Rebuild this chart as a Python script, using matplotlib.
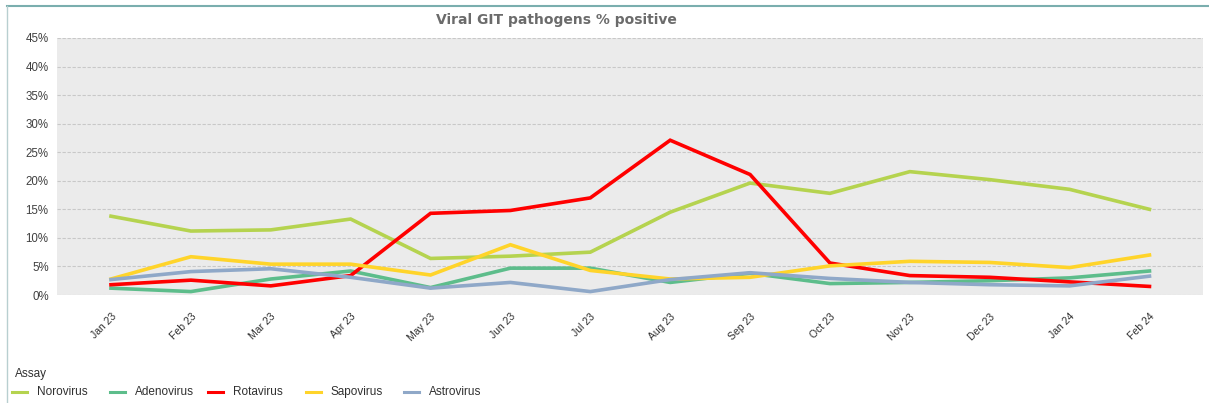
import matplotlib.pyplot as plt
from matplotlib.lines import Line2D
from matplotlib.transforms import ScaledTranslation
import numpy as np

months = ['Jan 23', 'Feb 23', 'Mar 23', 'Apr 23', 'May 23', 'Jun 23', 'Jul 23',
          'Aug 23', 'Sep 23', 'Oct 23', 'Nov 23', 'Dec 23', 'Jan 24', 'Feb 24']

norovirus = [13.8, 11.2, 11.4, 13.3, 6.4, 6.8, 7.5, 14.5, 19.6, 17.8, 21.6, 20.2, 18.5, 15.0]
adenovirus = [1.2, 0.6, 2.8, 4.2, 1.3, 4.7, 4.7, 2.2, 3.8, 2.0, 2.2, 2.5, 3.0, 4.2]
rotavirus = [1.8, 2.6, 1.6, 3.4, 14.3, 14.8, 17.0, 27.1, 21.1, 5.6, 3.4, 3.1, 2.3, 1.5]
sapovirus = [2.8, 6.7, 5.4, 5.4, 3.5, 8.8, 4.3, 2.8, 3.1, 5.1, 5.9, 5.7, 4.8, 7.0]
astrovirus = [2.7, 4.1, 4.6, 3.1, 1.2, 2.2, 0.6, 2.7, 3.9, 2.9, 2.2, 1.8, 1.6, 3.3]

series = [('Norovirus', norovirus, '#b5d34f'),
          ('Adenovirus', adenovirus, '#5dbd8b'),
          ('Rotavirus', rotavirus, '#ff0000'),
          ('Sapovirus', sapovirus, '#ffd42a'),
          ('Astrovirus', astrovirus, '#8fa8c8')]

W, H = 1209, 403
fig = plt.figure(figsize=(W / 100, H / 100), dpi=100)

# plot area in pixels: x 57..1203, y 38..295
ax = fig.add_axes([57 / W, (H - 295) / H, (1203 - 57) / W, (295 - 38) / H])
ax.set_facecolor('#ebebeb')
x = np.arange(len(months))
for name, vals, col in series:
    ax.plot(x, vals, color=col, lw=2.6, label=name, solid_joinstyle='miter')

ax.set_xlim(-0.676, 13.67)
ax.set_ylim(0, 45)
ax.set_yticks(np.arange(0, 46, 5))
ax.set_yticklabels([f'{v}%' for v in range(0, 46, 5)], fontsize=8.3,
                   color='#404040', family='Liberation Sans')
ax.set_xticks(x)
ax.set_xticklabels(months, rotation=45, ha='right', rotation_mode='anchor',
                   fontsize=7.5, color='#303030', family='Liberation Sans')
shift = ScaledTranslation(-8 / 100, 3 / 100, fig.dpi_scale_trans)
for lbl in ax.get_xticklabels():
    lbl.set_transform(lbl.get_transform() + shift)
ax.tick_params(axis='both', length=0)
ax.tick_params(axis='y', pad=6)
ax.tick_params(axis='x', pad=12)
ax.grid(axis='y', color='#c8c8c8', ls=(0, (3, 1.5)), lw=0.8)
ax.set_axisbelow(True)
for s in ax.spines.values():
    s.set_visible(False)

fig.text(556 / W, 1 - 20 / H, 'Viral GIT pathogens % positive', ha='center',
         va='center', fontsize=10, fontweight='bold', color='#6b6b6b',
         family='DejaVu Sans')

# outer frame (top and left)
fig.add_artist(Line2D([7 / W, 1], [1 - 6 / H, 1 - 6 / H], color='#7aaeae', lw=1.5))
fig.add_artist(Line2D([7 / W, 7 / W], [1 - 6 / H, 0], color='#b8cfd0', lw=1))

# legend
fig.text(15 / W, 1 - 374 / H, 'Assay', ha='left', va='center', fontsize=8.5,
         color='#303030', family='Liberation Sans')
leg_x = [12, 110, 208, 306, 404]
for (name, vals, col), lx in zip(series, leg_x):
    fig.add_artist(Line2D([lx / W, (lx + 15) / W], [1 - 392 / H, 1 - 392 / H],
                          color=col, lw=2.2))
    fig.text((lx + 25) / W, 1 - 392 / H, name, ha='left', va='center',
             fontsize=8.5, color='#303030', family='Liberation Sans')

fig.savefig('out.png', dpi=100)
